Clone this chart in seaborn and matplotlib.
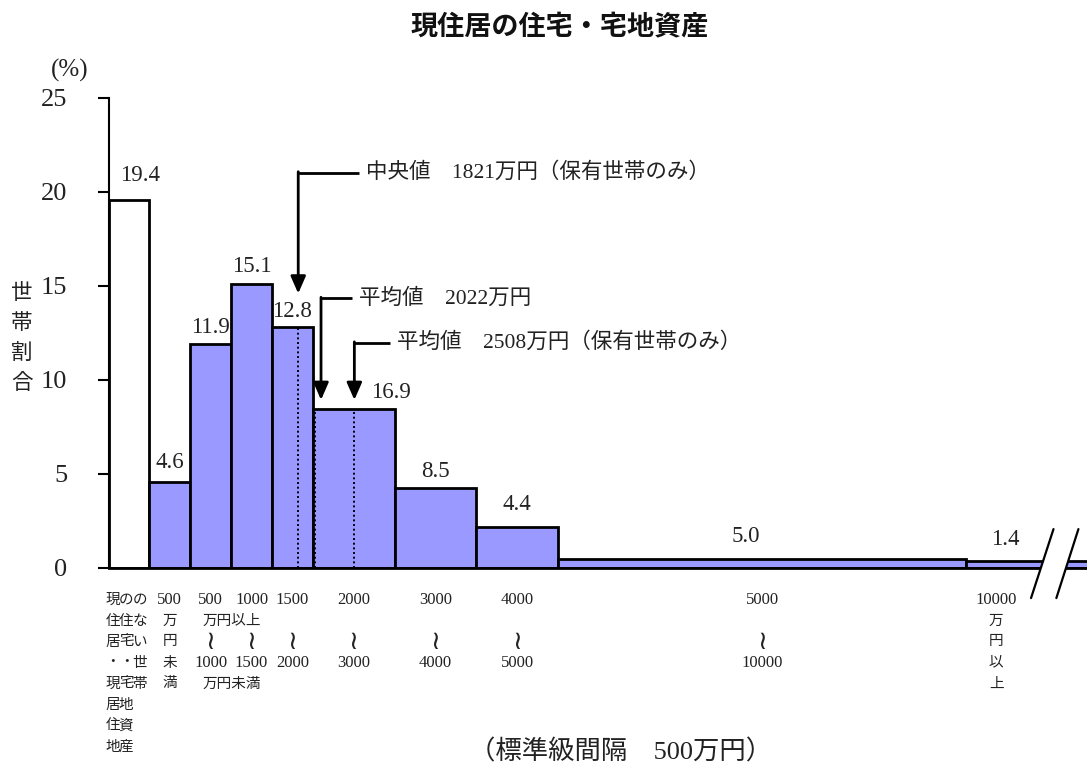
import numpy as np
import pandas as pd
import matplotlib
matplotlib.use("Agg")
import matplotlib.pyplot as plt
import matplotlib.transforms as mtransforms
import seaborn as sns

# ---------------- data ----------------
unit = 500  # 標準級間隔 (万円)
categories = ["現住居・現居住地の住宅・宅地資産のない世帯", "500万円未満", "500～1000", "1000～1500",
              "1500～2000", "2000～3000", "3000～4000", "4000～5000", "5000～10000", "10000万円以上"]
bin_edges = [-500, 0, 500, 1000, 1500, 2000, 3000, 4000, 5000, 10000, 12500]   # 万円
bar_heights = [19.6, 4.6, 11.9, 15.1, 12.8, 8.45, 4.25, 2.2, 0.48, 0.35]      # % per 500万円
share_labels = ["19.4", "4.6", "11.9", "15.1", "12.8", "16.9", "8.5", "4.4", "5.0", "1.4"]
lower_bounds = ["", "500", "500", "1000", "1500", "2000", "3000", "4000", "5000", "10000"]
upper_bounds = ["", "", "1000", "1500", "2000", "3000", "4000", "5000", "10000", ""]
median_owner = 1821
mean_all = 2022
mean_owner = 2508
yticks = [0, 5, 10, 15, 20, 25]

# ---------------- style ----------------
sns.set_theme(style="white")
FAM = ["Liberation Serif", "Noto Sans CJK JP", "DejaVu Sans"]
plt.rcParams["font.family"] = FAM

W, H = 1087, 776
fig = plt.figure(figsize=(W / 100, H / 100), dpi=100)
ax = fig.add_axes([109 / W, 1 - 568 / H, (W - 109) / W, (568 - 98) / H])

edges = [e / unit for e in bin_edges]
centers = [(a + b) / 2 for a, b in zip(edges[:-1], edges[1:])]
df = pd.DataFrame({"x": centers, "h": bar_heights,
                   "grp": ["none"] + ["own"] * (len(centers) - 1)})

sns.histplot(data=df[df.grp == "none"], x="x", weights="h", bins=edges[:2], stat="count",
             color="white", edgecolor="black", linewidth=2, alpha=1, ax=ax)
sns.histplot(data=df[df.grp == "own"], x="x", weights="h", bins=edges[1:], stat="count",
             color="#9999FF", edgecolor="black", linewidth=2, alpha=1, ax=ax)

ax.set_xlim(-0.99, 22.95)
ax.set_ylim(0, 25)
ax.set_xlabel("")
ax.set_ylabel("")
ax.set_xticks([])
ax.set_yticks(yticks)
ax.set_yticklabels([str(t) for t in yticks], fontsize=19)
ax.tick_params(axis="y", direction="out", length=8, width=1.5, pad=22, colors="black",
               labelcolor="#222222", left=True)
for s in ["top", "right"]:
    ax.spines[s].set_visible(False)
ax.spines["left"].set_color("black")
ax.spines["left"].set_linewidth(1.5)
ax.spines["bottom"].set_color("black")
ax.spines["bottom"].set_linewidth(2)
ax.grid(False)

# bar value labels
label_x = list(centers)
label_x[0] = -0.23
label_x[5] = 5.92
label_x[8] = 14.6
label_x[9] = 20.96
label_dy = [1.0, 0.72, 0.6, 0.66, 0.57, 0.6, 0.6, 0.88, 0.9, 0.87]
for lx, h, s, dy in zip(label_x, bar_heights, share_labels, label_dy):
    ax.text(lx, h + dy, s, ha="center", va="baseline", fontsize=16.5, color="#222222")

# dotted reference lines
edges_arr = np.array(edges)
def height_at(v):
    i = int(np.searchsorted(edges_arr, v / unit, side="right")) - 1
    return bar_heights[i]

for v in [median_owner, mean_all, mean_owner]:
    ax.plot([v / unit] * 2, [0, height_at(v)], color="black", ls=(0, (1, 1.4)), lw=1.4, zorder=5)

# arrows with captions
arrows = [
    (median_owner, 0.0, 21.03, 14.6, 5.12, 5.30, f"中央値　{median_owner}万円（保有世帯のみ）"),
    (mean_all, 0.156, 14.35, 8.94, 4.95, 5.14, f"平均値　{mean_all}万円"),
    (mean_owner, 0.0, 11.98, 8.94, 5.89, 6.06, f"平均値　{mean_owner}万円（保有世帯のみ）"),
]
for v, off, ytop, ytip, xend, xtxt, txt in arrows:
    xa = v / unit + off
    ax.plot([xa, xend], [ytop, ytop], color="black", lw=2, solid_capstyle="butt", zorder=6)
    ax.annotate("", xy=(xa, ytip), xytext=(xa, ytop + 0.05),
                arrowprops=dict(arrowstyle="-|>,head_length=0.8,head_width=0.35",
                                color="black", lw=2, shrinkA=0, shrinkB=0,
                                mutation_scale=13), zorder=6)
    ax.text(xtxt, ytop, txt, ha="left", va="center", fontsize=15.5, color="#222222")

# axis break marks
b1 = [(21.58, -1.6), (22.13, 2.07)]
b2 = [(22.20, -1.6), (22.74, 2.07)]
ax.fill([b1[0][0], b1[1][0], b2[1][0], b2[0][0]], [b1[0][1], b1[1][1], b2[1][1], b2[0][1]],
        color="white", clip_on=False, zorder=8, lw=0)
for b in (b1, b2):
    ax.plot([b[0][0], b[1][0]], [b[0][1], b[1][1]], color="black", lw=1.6, clip_on=False, zorder=9)

# category labels (vertical Japanese layout)
trans = mtransforms.blended_transform_factory(ax.transData, fig.transFigure)
def row_y(r):
    return 1 - (600 + 21 * r) / H
def put(x, r, s, ha="center", size=10.5, family=None):
    ax.text(x, row_y(r), s, transform=trans, ha=ha, va="center", fontsize=size,
            color="#222222", clip_on=False, family=family or FAM)

NUM = 12
cols = ["現住居・現居住地", "の住宅・宅地資産", "のない世帯"]
col_px = [112.5, 126, 139.5]
for cx, col in zip(col_px, cols):
    for r, ch in enumerate(col):
        put((cx - 149.3) / 40.85, r, ch)

put(centers[1], 0, lower_bounds[1], size=NUM)
for r, ch in enumerate("万円未満"):
    put(centers[1], r + 1, ch)
for i in range(2, 9):
    put(centers[i], 0, lower_bounds[i], size=NUM)
    put(centers[i], 2, "≀", size=19, family=["DejaVu Sans"])
    put(centers[i], 3, upper_bounds[i], size=NUM)
put(1.29, 1, "万円以上", ha="left")
put(1.29, 4, "万円未満", ha="left")
x_last = 20.73
put(x_last, 0, lower_bounds[9], size=NUM)
for r, ch in enumerate("万円以上"):
    put(x_last, r + 1, ch)

# texts
fig.text(560 / W, 1 - 26 / H, "現住居の住宅・宅地資産", ha="center", va="center",
         fontsize=19.5, fontweight="bold", family=["Noto Sans CJK JP"], color="#111111")
fig.text(70 / W, 1 - 70 / H, "(%)", ha="center", va="center", fontsize=18, color="#222222")
for i, ch in enumerate("世帯割合"):
    fig.text(22 / W, 1 - (294 + 30 * i) / H, ch, ha="center", va="center", fontsize=15.5,
             color="#222222")
fig.text(621 / W, 1 - 752 / H, f"（標準級間隔　{unit}万円）", ha="center", va="center",
         fontsize=19, color="#222222")

fig.savefig("out.png", dpi=100, facecolor="white")
